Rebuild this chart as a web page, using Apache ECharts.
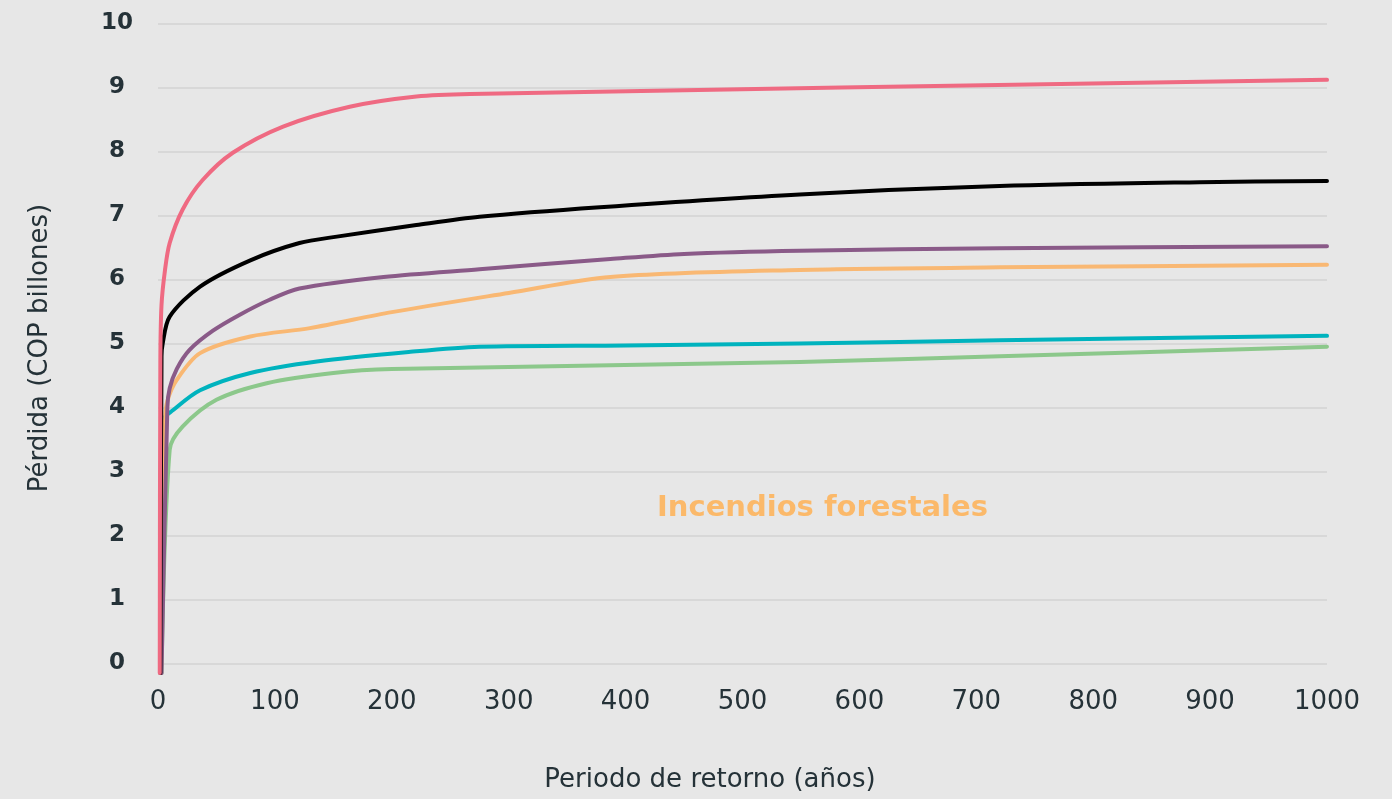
<!DOCTYPE html>
<html>
<head>
<meta charset="utf-8">
<script src="https://cdn.jsdelivr.net/npm/echarts@6/dist/echarts.min.js"></script>
<style>
html,body{margin:0;padding:0;background:#e7e7e7;}
#chart{width:1392px;height:799px;}
</style>
</head>
<body>
<div id="chart"></div>
<script>
// Return period (years) and loss (COP billones) per series
const pinkX   = [1.5, 2, 3, 6, 10, 21, 38, 64, 107, 164, 221, 267, 1000];
const pinkY   = [-0.15, 4.7, 5.6, 6.15, 6.57, 7.09, 7.55, 7.98, 8.39, 8.70, 8.86, 8.90, 9.12];

const blackX  = [2, 3, 4, 10, 36, 79, 121, 153, 221, 275, 378, 549, 720, 891, 1000];
const blackY  = [-0.15, 4.8, 5.0, 5.42, 5.89, 6.30, 6.57, 6.67, 6.85, 6.98, 7.13, 7.33, 7.46, 7.52, 7.54];

const purpleX = [3, 8, 10, 16, 27, 47, 70, 95, 121, 193, 275, 387, 450, 549, 720, 1000];
const purpleY = [-0.15, 4.0, 4.3, 4.6, 4.9, 5.2, 5.45, 5.68, 5.86, 6.04, 6.16, 6.32, 6.40, 6.45, 6.49, 6.52];

const orangeX = [2.5, 6, 8, 16, 36, 79, 130, 200, 300, 387, 549, 720, 1000];
const orangeY = [-0.15, 3.8, 4.1, 4.43, 4.85, 5.11, 5.24, 5.49, 5.79, 6.04, 6.15, 6.19, 6.23];

const tealX   = [2.5, 4.5, 13, 36, 79, 136, 216, 275, 400, 549, 720, 1000];
const tealY   = [-0.15, 3.8, 3.96, 4.27, 4.54, 4.72, 4.87, 4.95, 4.97, 5.0, 5.05, 5.12];

const greenX  = [3, 10, 21, 50, 93, 150, 200, 549, 720, 1000];
const greenY  = [-0.15, 3.34, 3.7, 4.12, 4.38, 4.54, 4.6, 4.71, 4.8, 4.95];

const yTicks = [0, 1, 2, 3, 4, 5, 6, 7, 8, 9, 10];
const xTicks = [0, 100, 200, 300, 400, 500, 600, 700, 800, 900, 1000];

const annotation = 'Incendios forestales';
const yName = 'Pérdida (COP billones)';
const xName = 'Periodo de retorno (años)';

function pairs(xs, ys){ return xs.map((x,i)=>[x, ys[i]]); }

const FONT = 'DejaVu Sans';
const TXT = '#253238';

const seriesDefs = [
  {name:'verde',   x:greenX,  y:greenY,  color:'#8cc88b'},
  {name:'turquesa',x:tealX,   y:tealY,   color:'#00b3be'},
  {name:'naranja', x:orangeX, y:orangeY, color:'#f9b873'},
  {name:'morado',  x:purpleX, y:purpleY, color:'#8a5a88'},
  {name:'negro',   x:blackX,  y:blackY,  color:'#000000'},
  {name:'rosa',    x:pinkX,   y:pinkY,   color:'#ef6a82'}
];

const chart = echarts.init(document.getElementById('chart'), null, {renderer:'canvas'});
chart.setOption({
  backgroundColor:'#e7e7e7',
  animation:false,
  grid:{left:158, right:65, top:23.5, bottom:135.5, containLabel:false},
  xAxis:{
    type:'value', min:xTicks[0], max:xTicks[xTicks.length-1], interval:100,
    axisLine:{show:false}, axisTick:{show:false}, splitLine:{show:false},
    axisLabel:{color:TXT, fontFamily:FONT, fontSize:26, margin:26, formatter:v=>String(v)}
  },
  yAxis:{
    type:'value', min:yTicks[0], max:yTicks[yTicks.length-1], interval:1,
    axisLine:{show:false}, axisTick:{show:false},
    splitLine:{show:true, lineStyle:{color:'#d8d8d8', width:2}},
    axisLabel:{color:TXT, fontFamily:FONT, fontSize:23, fontWeight:'bold', margin:41, align:'center', formatter:v=>String(v)}
  },
  graphic:[
    {type:'text', left:657, top:494, style:{text:annotation, fill:'#fbb96a', font:'bold 29px "DejaVu Sans"'}},
    {type:'text', x:710, y:780, style:{text:xName, fill:TXT, font:'26px "DejaVu Sans"', align:'center', verticalAlign:'middle'}},
    {type:'text', x:40, y:348, rotation:Math.PI/2, style:{text:yName, fill:TXT, font:'26px "DejaVu Sans"', align:'center', verticalAlign:'middle'}}
  ],
  series: seriesDefs.map(s=>({
    name:s.name, type:'line', data:pairs(s.x, s.y), showSymbol:false, symbol:'none',
    smooth:0.3, clip:false,
    lineStyle:{color:s.color, width:4, cap:'round', join:'round'}
  }))
});
</script>
</body>
</html>
